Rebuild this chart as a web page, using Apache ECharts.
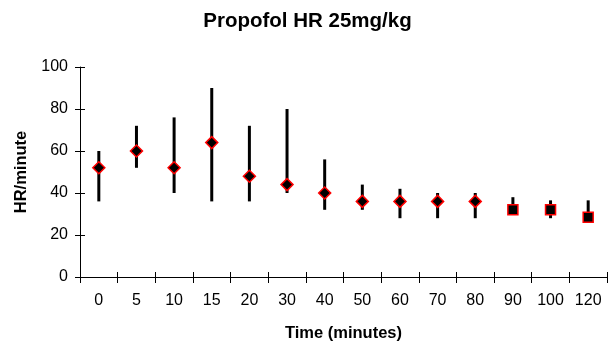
<!DOCTYPE html>
<html>
<head>
<meta charset="utf-8">
<script src="https://cdn.jsdelivr.net/npm/echarts@6/dist/echarts.min.js"></script>
<style>html,body{margin:0;padding:0;background:#fff;}#c{width:615px;height:344px;}</style>
</head>
<body>
<div id="c"></div>
<script>
const categories = ['0','5','10','15','20','30','40','50','60','70','80','90','100','120'];
const meanHR  = [52, 60, 52, 64, 48, 44, 40, 36, 36, 36, 36, 32, 32, 28.5];
const upperHR = [60, 72, 76, 90, 72, 80, 56, 44, 42, 40, 40, 38, 36.5, 36.5];
const lowerHR = [36, 52, 40, 36, 36, 40, 32, 32, 28, 28, 28, 30, 28, 28];
const yTicks = [0, 20, 40, 60, 80, 100];
const squareFromIndex = 11;

const FONT = 'Liberation Sans, Arial, sans-serif';
const chart = echarts.init(document.getElementById('c'), null, {renderer: 'canvas'});
const errData = categories.map((c, i) => [i, lowerHR[i], upperHR[i]]);

chart.setOption({
  animation: false,
  backgroundColor: '#fff',
  title: {
    text: 'Propofol HR 25mg/kg',
    left: 'center',
    top: 6,
    textStyle: {fontFamily: FONT, fontWeight: 'bold', fontSize: 20.5, color: '#000'}
  },
  grid: {left: 80, right: 8, top: 67, bottom: 67, containLabel: false, outerBoundsMode: 'none'},
  xAxis: [{
    type: 'category',
    data: categories,
    boundaryGap: true,
    name: 'Time (minutes)',
    nameLocation: 'middle',
    nameGap: 48,
    nameTextStyle: {fontFamily: FONT, fontWeight: 'bold', fontSize: 16.5, color: '#000'},
    axisLine: {lineStyle: {color: '#000', width: 1}},
    axisTick: {show: true, inside: false, length: 6, lineStyle: {color: '#000'}},
    axisLabel: {fontFamily: FONT, fontSize: 16, color: '#000', margin: 16, interval: 0},
    splitLine: {show: false}
  }, {
    type: 'category',
    data: categories,
    position: 'bottom',
    boundaryGap: true,
    axisLine: {show: false},
    axisTick: {show: true, inside: true, length: 5, lineStyle: {color: '#000'}},
    axisLabel: {show: false},
    splitLine: {show: false}
  }],
  yAxis: [{
    type: 'value',
    min: yTicks[0],
    max: yTicks[yTicks.length - 1],
    interval: 20,
    name: 'HR/minute',
    nameLocation: 'middle',
    nameGap: 46,
    nameTextStyle: {fontFamily: FONT, fontWeight: 'bold', fontSize: 16.5, color: '#000'},
    axisLine: {show: true, lineStyle: {color: '#000', width: 1}},
    axisTick: {show: true, inside: false, length: 5, lineStyle: {color: '#000'}},
    axisLabel: {fontFamily: FONT, fontSize: 16, color: '#000', margin: 12},
    splitLine: {show: false}
  }, {
    type: 'value',
    min: yTicks[0],
    max: yTicks[yTicks.length - 1],
    interval: 20,
    position: 'left',
    axisLine: {show: false},
    axisTick: {show: true, inside: true, length: 5, lineStyle: {color: '#000'}},
    axisLabel: {show: false},
    splitLine: {show: false}
  }],
  series: [{
    type: 'custom',
    xAxisIndex: 0,
    yAxisIndex: 0,
    z: 2,
    data: errData,
    renderItem: function (params, api) {
      const x = api.value(0);
      const lo = api.coord([x, api.value(1)]);
      const hi = api.coord([x, api.value(2)]);
      return {
        type: 'line',
        shape: {x1: lo[0], y1: lo[1], x2: hi[0], y2: hi[1]},
        style: {stroke: '#000', lineWidth: 3}
      };
    }
  }, {
    type: 'scatter',
    xAxisIndex: 0,
    yAxisIndex: 0,
    z: 3,
    data: meanHR,
    symbol: function (v, p) { return p.dataIndex >= squareFromIndex ? 'rect' : 'diamond'; },
    symbolSize: function (v, p) { return p.dataIndex >= squareFromIndex ? 10 : 12; },
    itemStyle: {color: '#000', borderColor: '#ff0000', borderWidth: 1.5, opacity: 1}
  }]
});
</script>
</body>
</html>
